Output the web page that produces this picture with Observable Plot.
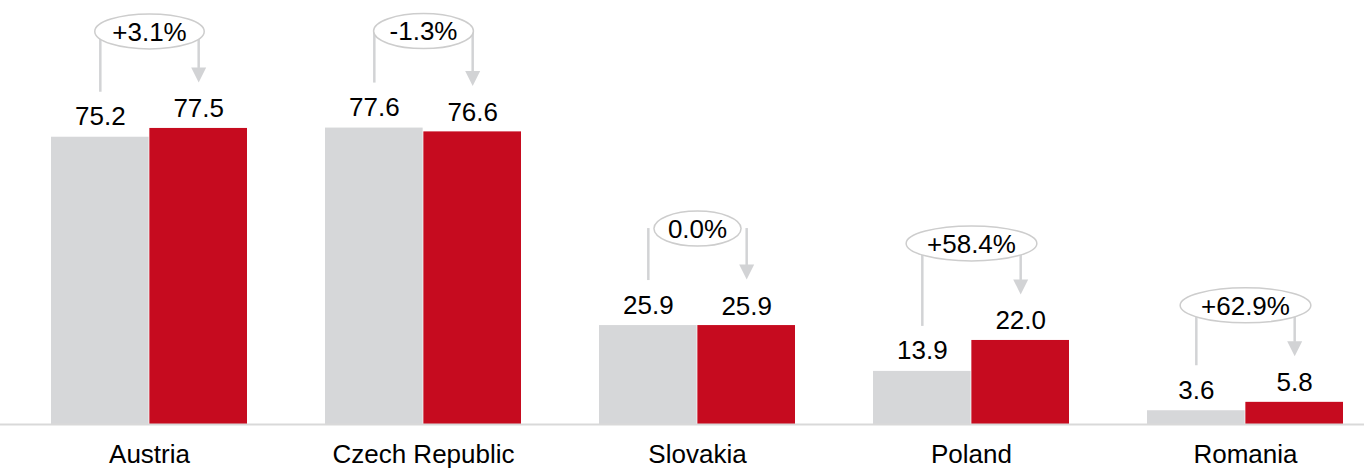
<!DOCTYPE html>
<html>
<head>
<meta charset="utf-8">
<script src="https://cdn.jsdelivr.net/npm/d3@7"></script>
<script src="https://cdn.jsdelivr.net/npm/@observablehq/plot@0.6"></script>
<style>
  html, body { margin: 0; padding: 0; background: #fff; }
  #chart svg { display: block; }
</style>
</head>
<body>
<div id="chart"></div>
<script>
// ---- data ----
const countries = ["Austria", "Czech Republic", "Slovakia", "Poland", "Romania"];
const prior = [75.2, 77.6, 25.9, 13.9, 3.6];
const current = [77.5, 76.6, 25.9, 22.0, 5.8];
const changes = ["+3.1%", "-1.3%", "0.0%", "+58.4%", "+62.9%"];

// ---- styles ----
const FONT = "'Liberation Sans', Arial, Helvetica, sans-serif";
const FS = 26;
const GRAY = "#d6d7d9";
const RED = "#c60b1f";
const LINE = "#d2d3d5";
const HALF = 98.35;       // half of group band width (px)
const OFF = HALF / 2;     // bar center offset
const ELL_DY = -97;       // ellipse offset above taller bar (px)

const ctx = document.createElement("canvas").getContext("2d");
ctx.font = `${FS}px ${FONT}`;

const rows = countries.map((c, i) => ({
  country: c,
  prior: prior[i],
  current: current[i],
  max: Math.max(prior[i], current[i]),
  change: changes[i],
  rx: ctx.measureText(changes[i]).width * 0.735
}));

const K = 0.5522847498;
const RY = 17.5;
const ellipse = {
  draw(p, size) {
    const rx = Math.sqrt(size / Math.PI), ry = RY;
    p.moveTo(rx, 0);
    p.bezierCurveTo(rx, ry * K, rx * K, ry, 0, ry);
    p.bezierCurveTo(-rx * K, ry, -rx, ry * K, -rx, 0);
    p.bezierCurveTo(-rx, -ry * K, -rx * K, -ry, 0, -ry);
    p.bezierCurveTo(rx * K, -ry, rx, -ry * K, rx, 0);
    p.closePath();
  }
};
const downTriangle = {
  draw(p) {
    p.moveTo(-7.5, -7.5);
    p.lineTo(7.5, -7.5);
    p.lineTo(0, 7.5);
    p.closePath();
  }
};

const chart = Plot.plot({
  width: 1364,
  height: 469,
  marginLeft: 0,
  marginRight: 0,
  marginTop: 42,
  marginBottom: 45,
  style: { fontFamily: FONT, fontSize: `${FS}px`, color: "#000", background: "#fff", overflow: "visible" },
  x: { domain: countries, paddingInner: 0.2834, paddingOuter: 0.1262, align: 0.711, label: null },
  y: { domain: [0, 100], axis: null },
  r: { type: "identity" },
  marks: [
    Plot.barY(rows, { x: "country", y: "prior", fill: GRAY, insetRight: HALF }),
    Plot.barY(rows, { x: "country", y: "current", fill: RED, insetLeft: HALF }),
    Plot.ruleY([0], { stroke: "#d9d9d9", strokeWidth: 2 }),
    Plot.axisX({ tickSize: 0, tickPadding: 20.5, fontSize: FS, fill: "#000", label: null }),
    // connectors
    Plot.ruleX(rows, { x: "country", y1: "max", y2: "prior", dx: -OFF, insetTop: ELL_DY, insetBottom: 45, stroke: LINE, strokeWidth: 2.5 }),
    Plot.ruleX(rows, { x: "country", y1: "max", y2: "current", dx: OFF, insetTop: ELL_DY, insetBottom: 60, stroke: LINE, strokeWidth: 2.5 }),
    Plot.dot(rows, { x: "country", y: "current", dx: OFF, dy: -53.5, symbol: downTriangle, r: 5, fill: LINE, stroke: "none" }),
    Plot.dot(rows, { x: "country", y: "max", dy: ELL_DY, symbol: ellipse, r: "rx", fill: "#fff", stroke: "#cdcdcd", strokeWidth: 1.5 }),
    Plot.text(rows, { x: "country", y: "max", dy: ELL_DY + 1, text: "change", fontSize: FS, fill: "#000", lineAnchor: "middle" }),
    // value labels
    Plot.text(rows, { x: "country", y: "prior", dx: -OFF, dy: -12, text: d => d.prior.toFixed(1), fontSize: FS, fill: "#000", lineAnchor: "bottom" }),
    Plot.text(rows, { x: "country", y: "current", dx: OFF, dy: -11, text: d => d.current.toFixed(1), fontSize: FS, fill: "#000", lineAnchor: "bottom" })
  ]
});
document.getElementById("chart").appendChild(chart);
</script>
</body>
</html>
